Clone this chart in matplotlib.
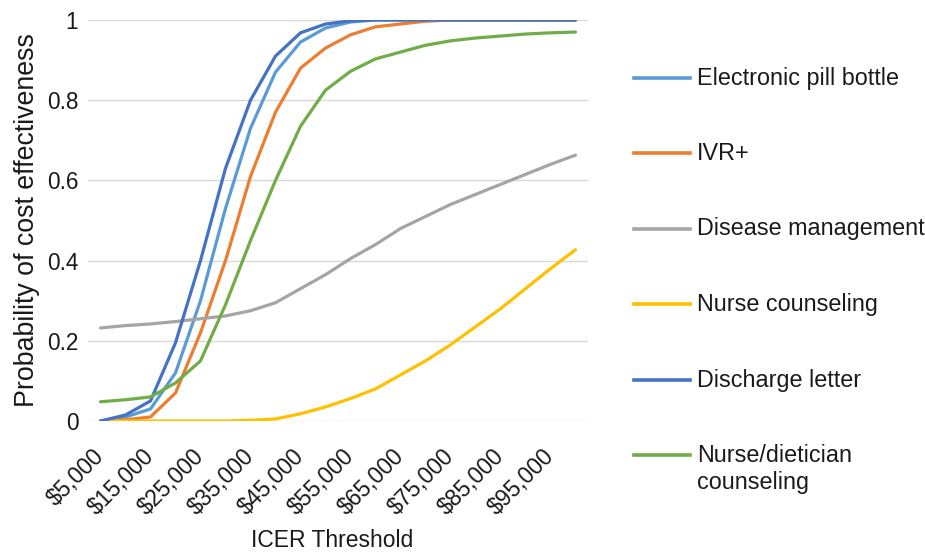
import matplotlib
matplotlib.use("Agg")
import matplotlib.pyplot as plt
from matplotlib.lines import Line2D
from matplotlib.transforms import ScaledTranslation

plt.rcParams["font.family"] = ["Liberation Sans", "DejaVu Sans"]

# Willingness-to-pay thresholds (USD)
thresholds = [5000, 10000, 15000, 20000, 25000, 30000, 35000, 40000, 45000, 50000,
              55000, 60000, 65000, 70000, 75000, 80000, 85000, 90000, 95000, 100000]

electronic_pill_bottle = [0.0, 0.01, 0.03, 0.12, 0.30, 0.53, 0.73, 0.87, 0.945, 0.98,
                          0.995, 1.0, 1.0, 1.0, 1.0, 1.0, 1.0, 1.0, 1.0, 1.0]
ivr_plus = [0.0, 0.003, 0.01, 0.07, 0.22, 0.40, 0.61, 0.77, 0.88, 0.93,
            0.963, 0.983, 0.99, 0.997, 1.0, 1.0, 1.0, 1.0, 1.0, 1.0]
disease_management = [0.232, 0.238, 0.242, 0.248, 0.255, 0.262, 0.275, 0.295, 0.33, 0.365,
                      0.405, 0.44, 0.48, 0.51, 0.54, 0.565, 0.59, 0.615, 0.64, 0.663]
nurse_counseling = [0.0, 0.0, 0.0, 0.0, 0.0, 0.0, 0.002, 0.005, 0.018, 0.035,
                    0.056, 0.08, 0.115, 0.15, 0.19, 0.235, 0.28, 0.33, 0.38, 0.427]
discharge_letter = [0.0, 0.015, 0.05, 0.195, 0.40, 0.63, 0.80, 0.91, 0.968, 0.99,
                    0.998, 1.0, 1.0, 1.0, 1.0, 1.0, 1.0, 1.0, 1.0, 1.0]
nurse_dietician = [0.048, 0.053, 0.06, 0.095, 0.15, 0.29, 0.45, 0.60, 0.735, 0.825,
                   0.872, 0.903, 0.92, 0.937, 0.948, 0.955, 0.96, 0.965, 0.968, 0.97]

series_names = ["Electronic pill bottle", "IVR+", "Disease management",
                "Nurse counseling", "Discharge letter", "Nurse/dietician\ncounseling"]
series_values = [electronic_pill_bottle, ivr_plus, disease_management,
                 nurse_counseling, discharge_letter, nurse_dietician]
colors = ["#5B9BD5", "#ED7D31", "#A5A5A5", "#FFC000", "#4472C4", "#70AD47"]

tick_values = [5000, 15000, 25000, 35000, 45000, 55000, 65000, 75000, 85000, 95000]
tick_labels = ["${:,}".format(v) for v in tick_values]
y_ticks = [0, 0.2, 0.4, 0.6, 0.8, 1]
y_tick_labels = ["0", "0.2", "0.4", "0.6", "0.8", "1"]

W, H = 925, 552
fig = plt.figure(figsize=(W / 100, H / 100), dpi=100)
ax = fig.add_axes([88 / W, 1 - 421 / H, 500 / W, 401 / H])

positions = list(range(len(thresholds)))
for vals, col in zip(series_values, colors):
    ax.plot(positions, vals, color=col, lw=2.3, solid_capstyle="round",
            solid_joinstyle="round")

ax.set_xlim(-0.5, len(thresholds) - 0.5)
ax.set_ylim(0, 1)
ax.set_xticks([thresholds.index(v) for v in tick_values])
ax.set_xticklabels(tick_labels, rotation=45, ha="right", va="top",
                   rotation_mode="anchor", fontsize=16.5)
ax.set_yticks(y_ticks)
ax.set_yticklabels(y_tick_labels, fontsize=16.3)
ax.tick_params(axis="both", length=0, colors="#1a1a1a")
ax.tick_params(axis="x", pad=17)
ax.tick_params(axis="y", pad=7)
for sp in ax.spines.values():
    sp.set_visible(False)
ax.grid(axis="y", color="#D9D9D9", lw=1)
ax.set_axisbelow(True)

# nudge the slanted threshold labels so their ends sit under the ticks
shift = ScaledTranslation(-8 / 100, 0, fig.dpi_scale_trans)
for lbl in ax.get_xticklabels():
    lbl.set_transform(lbl.get_transform() + shift)

fig.text(332 / W, 1 - 547 / H, "ICER Threshold", ha="center", va="baseline",
         fontsize=16.5, color="#1a1a1a")
fig.text(27 / W, 1 - 220 / H, "Probability of cost effectiveness", ha="center",
         va="center", rotation=90, fontsize=19.3, color="#1a1a1a")

# Legend on the right
legend_y = [78, 153, 229, 304, 380, 455]
for name, col, yy in zip(series_names, colors, legend_y):
    fy = 1 - yy / H
    fig.add_artist(Line2D([634 / W, 690 / W], [fy, fy], color=col, lw=2.6,
                          transform=fig.transFigure))
    lines = name.split("\n")
    for k, line in enumerate(lines):
        fig.text(697 / W, 1 - (yy + 27 * k) / H, line, ha="left", va="center",
                 fontsize=16.8, color="#1a1a1a")

fig.savefig("out.png", dpi=100, facecolor="white")
